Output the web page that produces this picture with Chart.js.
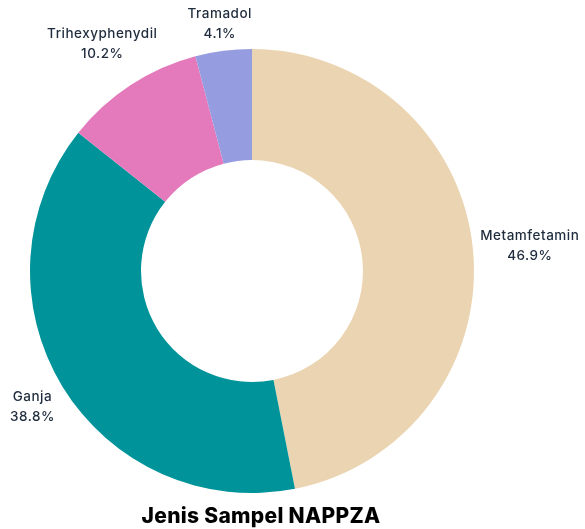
<!DOCTYPE html>
<html>
<head>
<meta charset="utf-8">
<script src="https://cdn.jsdelivr.net/npm/chart.js@4"></script>
<style>
  html, body { margin: 0; padding: 0; background: #fff; }
  #wrap { width: 585px; height: 529px; }
</style>
</head>
<body>
<div id="wrap"><canvas id="pie" width="585" height="529"></canvas></div>
<script>
// data
var categories = ["Metamfetamin", "Ganja", "Trihexyphenydil", "Tramadol"];
var shares = [46.9, 38.8, 10.2, 4.1];
var sliceColors = ["#EBD4B1", "#00949A", "#E47ABB", "#959CE0"];
var chartTitle = "Jenis Sampel NAPPZA";

var textColor = "#1f2c3d";
var labelFont = "500 13.5px Inter";

// draws "name / pct" outside each slice, pushed out along the mid angle
var outsideLabels = {
  id: "outsideLabels",
  afterDatasetsDraw(chart) {
    var ctx = chart.ctx;
    var meta = chart.getDatasetMeta(0);
    ctx.save();
    ctx.font = labelFont;
    ctx.letterSpacing = "0.5px";
    ctx.fillStyle = textColor;
    ctx.textAlign = "center";
    ctx.textBaseline = "middle";
    meta.data.forEach(function(arc, i) {
      var p = arc.getProps(["x", "y", "startAngle", "endAngle", "outerRadius"], true);
      var mid = (p.startAngle + p.endAngle) / 2;
      var cos = Math.cos(mid), sin = Math.sin(mid);
      var l1 = categories[i], l2 = shares[i].toFixed(1) + "%";
      var w = Math.max(ctx.measureText(l1).width, ctx.measureText(l2).width);
      var h = 38;
      var anchor = p.outerRadius + 6;
      var push = w / 2 * Math.abs(cos) + h / 2 * Math.abs(sin);
      var cx = p.x + cos * (anchor + push);
      var cy = p.y + sin * (anchor + push);
      ctx.fillText(l1, cx, cy - 8);
      ctx.fillText(l2, cx, cy + 12);
    });
    // title under the ring
    ctx.font = "800 21px Inter";
    ctx.letterSpacing = "0.3px";
    ctx.fillStyle = "#000";
    ctx.fillText(chartTitle, 261, 517);
    ctx.restore();
  }
};

new Chart(document.getElementById("pie"), {
  type: "doughnut",
  data: {
    labels: categories,
    datasets: [{
      data: shares,
      backgroundColor: sliceColors,
      borderWidth: 0,
      hoverOffset: 0
    }]
  },
  options: {
    responsive: false,
    animation: false,
    cutout: "50%",
    layout: { padding: { left: 30, right: 111, top: 49, bottom: 36 } },
    plugins: {
      legend: { display: false },
      tooltip: { enabled: false },
      title: { display: false }
    }
  },
  plugins: [outsideLabels]
});
</script>
</body>
</html>
